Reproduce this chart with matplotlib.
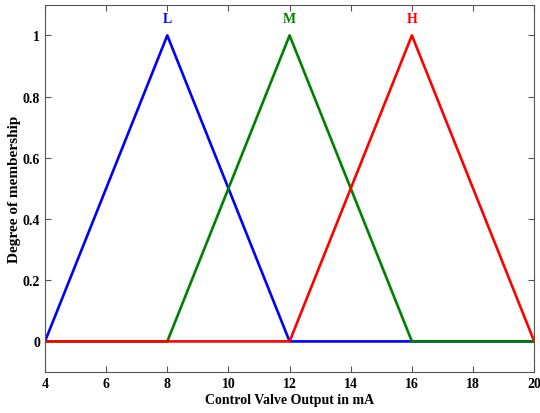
import matplotlib
matplotlib.use('Agg')
import matplotlib.pyplot as plt

# membership functions: triangles (a, b, c)
names = ['L', 'M', 'H']
params = [[4, 8, 12], [8, 12, 16], [12, 16, 20]]
colors = ['#0000ff', '#008000', '#ff0000']
x_range = [4, 20]

plt.rcParams['font.family'] = ['Liberation Serif', 'DejaVu Serif']
plt.rcParams['font.weight'] = 'bold'

fig = plt.figure(figsize=(5.4, 4.14), dpi=100)
ax = fig.add_axes([0.0833, 0.099, 0.906, 0.887])

for name, (a, b, c), col in zip(names, params, colors):
    xs = [x_range[0], a, b, c, x_range[1]]
    ys = [0, 0, 1, 0, 0]
    ax.plot(xs, ys, color=col, linewidth=1.9)
    ax.text(b, 1.035, name, color=col, ha='center', va='bottom',
            fontsize=10, fontweight='bold')

ax.set_xlim(4, 20)
ax.set_ylim(-0.1, 1.1)
ax.set_xticks(range(4, 21, 2))
ax.set_yticks([0, 0.2, 0.4, 0.6, 0.8, 1])
ax.set_yticklabels(['0', '0.2', '0.4', '0.6', '0.8', '1'])
ax.tick_params(direction='in', top=True, right=True, length=4,
               color='#555555', labelsize=10, width=0.8)
for s in ax.spines.values():
    s.set_color('#555555')
    s.set_linewidth(0.8)
ax.set_xlabel('Control Valve Output in mA', fontsize=10, fontweight='bold', labelpad=2)
ax.set_ylabel('Degree of membership', fontsize=11, fontweight='bold', labelpad=1)

fig.savefig('out.png', dpi=100)
